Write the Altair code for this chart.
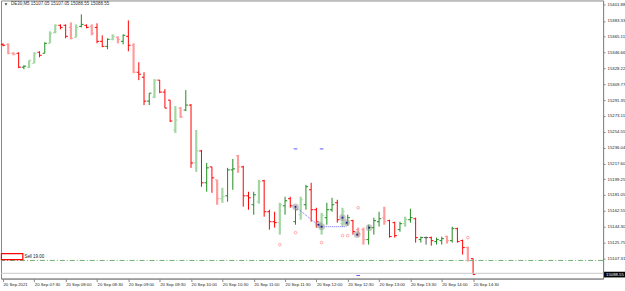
import altair as alt
import pandas as pd

# ---------------- data ----------------
kinds = list("dDDduUUduUUddDUudDdduUDudDdduUdddUDudUdudDUuuDdduUdddUuduUuddUuudUudDDuuuDdduUudugduuDuddDd")
opens = [15356.1,15356.1,15345.7,15345.7,15329.5,15329.5,15334.1,15346.9,15345.7,15357.3,
         15370.0,15378.2,15378.2,15375.8,15364.3,15377.0,15378.2,15377.0,15375.8,15359.6,
         15353.8,15361.9,15364.3,15359.6,15365.4,15355.0,15323.7,15317.9,15290.1,15294.8,
         15314.5,15300.6,15291.3,15256.6,15282.0,15279.7,15285.5,15218.3,15232.2,15195.2,
         15213.7,15198.7,15176.7,15180.1,15210.2,15226.5,15213.7,15180.1,15169.7,15173.2,
         15197.5,15161.6,15150.0,15148.9,15168.5,15176.7,15150.0,15158.1,15169.7,15187.1,
         15163.9,15143.1,15154.7,15163.9,15172.0,15147.7,15147.7,15151.2,15140.8,15140.8,
         15129.2,15143.1,15150.0,15154.7,15151.2,15148.9,15140.8,15147.7,15152.3,15153.5,
         15129.2,15131.5,15131.5,15126.9,15128.0,15132.7,15128.0,15141.9,15128.0,15119.9,
         15107.05]
highs = [15357.3,15357.3,15346.9,15346.9,15331.8,15337.6,15346.9,15348.0,15358.5,15371.2,
         15379.3,15379.3,15379.3,15381.6,15379.3,15390.9,15379.3,15379.3,15380.5,15366.6,
         15363.1,15367.7,15365.4,15367.7,15383.9,15357.3,15335.3,15323.7,15299.4,15315.6,
         15314.5,15304.0,15291.3,15284.4,15283.2,15302.9,15286.7,15256.6,15233.4,15218.3,
         15213.7,15198.7,15189.4,15212.6,15223.0,15227.6,15214.9,15184.8,15184.8,15198.7,
         15198.7,15163.9,15161.6,15172.0,15179.0,15179.0,15167.4,15179.0,15192.9,15195.2,
         15166.2,15160.4,15172.0,15177.8,15175.5,15166.2,15158.1,15152.3,15143.1,15143.1,
         15146.5,15154.7,15161.6,15167.4,15152.3,15150.0,15150.0,15155.8,15165.1,15154.7,
         15132.7,15132.7,15132.7,15131.5,15132.7,15133.8,15144.2,15143.1,15129.2,15121.1,
         15107.05]
lows = [15353.8,15344.6,15343.4,15328.4,15327.2,15328.4,15334.1,15341.1,15345.7,15357.3,
        15368.9,15373.5,15363.1,15361.9,15364.3,15375.8,15374.7,15366.6,15357.3,15352.7,
        15350.4,15360.8,15357.3,15356.1,15348.0,15322.6,15314.5,15285.5,15285.5,15293.6,
        15299.4,15282.0,15265.8,15253.1,15270.5,15278.5,15212.6,15207.9,15190.6,15184.8,
        15183.6,15169.7,15172.0,15173.2,15187.1,15206.8,15167.4,15163.9,15158.1,15170.9,
        15155.8,15140.8,15143.1,15135.0,15158.1,15166.2,15146.5,15152.3,15163.9,15150.0,
        15143.1,15135.0,15146.5,15161.6,15148.9,15144.2,15145.4,15135.0,15132.7,15123.4,
        15123.4,15135.0,15144.2,15146.5,15131.5,15131.5,15138.4,15144.2,15148.9,15125.7,
        15125.7,15123.4,15122.2,15123.4,15123.4,15124.6,15125.7,15125.7,15111.8,15103.7,
        15088.55]
closes = [15355.0,15345.7,15344.6,15329.5,15330.7,15337.6,15345.7,15343.4,15357.3,15368.9,
          15378.2,15375.8,15365.4,15363.1,15375.8,15379.3,15375.8,15368.9,15359.6,15353.8,
          15361.9,15365.4,15361.9,15366.6,15355.0,15323.7,15321.4,15290.1,15299.4,15314.5,
          15300.6,15282.0,15267.0,15268.1,15271.6,15285.5,15218.3,15232.2,15195.2,15212.6,
          15201.0,15176.7,15179.0,15210.2,15211.4,15213.7,15180.1,15177.8,15181.3,15196.3,
          15161.6,15150.0,15148.9,15169.7,15174.3,15168.5,15163.9,15175.5,15190.6,15163.9,
          15150.0,15157.0,15163.9,15169.7,15152.3,15161.6,15154.7,15138.4,15136.1,15129.2,
          15143.1,15151.2,15153.5,15150.0,15132.7,15133.8,15147.7,15152.3,15154.7,15131.5,
          15131.5,15131.5,15128.0,15129.2,15130.3,15128.0,15141.9,15126.9,15119.9,15104.9,
          15088.55]

x_tick_labels = ["20 Sep 2021", "20 Sep 07:30", "20 Sep 08:00", "20 Sep 08:30", "20 Sep 09:00",
                 "20 Sep 09:30", "20 Sep 10:00", "20 Sep 10:30", "20 Sep 11:00", "20 Sep 11:30",
                 "20 Sep 12:00", "20 Sep 12:30", "20 Sep 13:00", "20 Sep 13:30", "20 Sep 14:00",
                 "20 Sep 14:30"]
y_tick_values = [15401.88, 15383.33, 15365.11, 15346.66, 15328.22, 15309.77, 15291.35, 15273.11,
                 15254.55, 15236.04, 15217.60, 15199.25, 15181.05, 15162.55, 15144.30, 15125.75,
                 15107.31]

title_text = "DE30,M5  15107.05 15107.05 15088.55 15088.55"
last_price = 15088.55
level_price = 15105.0

# markers
pink_i = [53, 56, 61, 65, 66, 68, 89]
pink_p = [15123.4, 15137.3, 15125.7, 15133.8, 15133.8, 15166.2, 15131.5]
ring_i = [56, 60.4, 61, 65, 65.8, 67.8, 70.1]
ring_p = [15167.4, 15146.5, 15144.2, 15154.7, 15148.9, 15135.0, 15143.1]
path_i = [56, 60.7, 65.8]
path_p = [15167.4, 15144.2, 15144.2]
dash_i = [56, 61, 68]
dash_p = [15234.6, 15234.6, 15087.5]

sell_text = "Sell 19.00"

# ---------------- build ----------------
n = len(opens)
df = pd.DataFrame({"i": list(range(n)), "kind": kinds[:n], "o": opens, "h": highs,
                   "l": lows, "c": closes})

X_DOM = [-0.382, 114.885]
Y_DOM = [15083.92, 15407.09]
xs = alt.Scale(domain=X_DOM, nice=False, zero=False)
ys = alt.Scale(domain=Y_DOM, nice=False, zero=False)

color_scale = alt.Scale(domain=["u", "d", "U", "D", "g"],
                        range=["#1f8c1f", "#ff0000", "#a3d6a3", "#ff9c9c", "#555555"])

label_arr = "[" + ",".join("'" + s + "'" for s in x_tick_labels) + "]"

x_axis = alt.Axis(values=list(range(0, 91, 6)), labelExpr=label_arr + "[round(datum.value/6)]",
                  labelAlign="left", labelFontSize=4.3, labelFont="Liberation Sans",
                  labelColor="#222222", tickSize=3, tickColor="#888888", domainColor="#888888",
                  labelPadding=1, grid=False, title=None, labelOverlap=False, labelFlush=False)
y_axis = alt.Axis(orient="right", values=y_tick_values, format=".2f", labelFontSize=4.3,
                  labelFont="Liberation Sans", labelColor="#222222", tickSize=2,
                  tickColor="#888888", domainColor="#888888", labelPadding=2, grid=False,
                  title=None, labelOverlap=False, labelFlush=False)

XN = lambda f: alt.X(f, scale=xs, axis=x_axis)
YN = lambda f: alt.Y(f, scale=ys, axis=y_axis)

base = alt.Chart(df)

hl_dark = base.transform_filter("indexof(['u','d','g'], datum.kind) >= 0").mark_rule(strokeWidth=1).encode(
    x=XN("i:Q"), y=YN("l:Q"), y2="h:Q",
    color=alt.Color("kind:N", scale=color_scale, legend=None),
)
hl_pale = base.transform_filter("indexof(['U','D'], datum.kind) >= 0").mark_rule(strokeWidth=2.2).encode(
    x=XN("i:Q"), y=YN("l:Q"), y2="h:Q",
    color=alt.Color("kind:N", scale=color_scale, legend=None),
)
open_t = base.transform_calculate(il="datum.i - 0.42").mark_rule(strokeWidth=1).encode(
    x=XN("il:Q"), x2="i:Q", y=YN("o:Q"),
    color=alt.Color("kind:N", scale=color_scale, legend=None),
)
close_t = base.transform_calculate(ir="datum.i + 0.42").mark_rule(strokeWidth=1).encode(
    x=XN("i:Q"), x2="ir:Q", y=YN("c:Q"),
    color=alt.Color("kind:N", scale=color_scale, legend=None),
)

lvl = alt.Chart(pd.DataFrame({"p": [level_price]})).mark_rule(
    color="#6fae6f", strokeWidth=1, strokeDash=[5, 2, 1, 2]).encode(y=YN("p:Q"))
bid = alt.Chart(pd.DataFrame({"p": [last_price + 1.5]})).mark_rule(
    color="#c8c8c8", strokeWidth=1).encode(y=YN("p:Q"))

pink = alt.Chart(pd.DataFrame({"i": pink_i, "p": pink_p})).mark_point(
    shape="circle", size=7, filled=False, color="#ff6a6a", strokeWidth=0.8).encode(
    x=XN("i:Q"), y=YN("p:Q"))

rings = alt.Chart(pd.DataFrame({"i": ring_i, "p": ring_p})).mark_point(
    shape="circle", size=45, filled=True, color="#9a9a9a", opacity=0.55).encode(
    x=XN("i:Q"), y=YN("p:Q"))
ring_c = alt.Chart(pd.DataFrame({"i": ring_i, "p": ring_p})).mark_point(
    shape="square", size=3, filled=True, color="#1a1a8c", opacity=1).encode(
    x=XN("i:Q"), y=YN("p:Q"))

path = alt.Chart(pd.DataFrame({"i": path_i, "p": path_p, "k": [0, 1, 2]})).mark_line(
    color="#6b6bff", strokeWidth=1, strokeDash=[1, 1]).encode(
    x=XN("i:Q"), y=YN("p:Q"), order="k:Q")

dashes = alt.Chart(pd.DataFrame({"i": dash_i, "p": dash_p})).transform_calculate(
    a="datum.i - 0.35", b="datum.i + 0.35").mark_rule(color="#5a5aff", strokeWidth=1).encode(
    x=XN("a:Q"), x2="b:Q", y=YN("p:Q"))

sell_box = alt.Chart(pd.DataFrame({"a": [-0.3], "b": [3.8], "p1": [15106.0], "p2": [15112.9]})).mark_rect(
    fill="white", stroke="#ff0000", strokeWidth=1.2).encode(
    x=XN("a:Q"), x2="b:Q", y=YN("p1:Q"), y2="p2:Q")
sell_lbl = alt.Chart(pd.DataFrame({"i": [4.1], "p": [15109.4], "t": [sell_text]})).mark_text(
    align="left", baseline="middle", fontSize=4.5, font="Liberation Sans", color="#222222").encode(
    x=XN("i:Q"), y=YN("p:Q"), text="t:N")

pbox = alt.Chart(pd.DataFrame({"p": [last_price]})).transform_calculate(
    p1="datum.p - 3.3", p2="datum.p + 3.3").mark_rect(color="#000000").encode(
    x=alt.value(605), x2=alt.value(626), y=YN("p1:Q"), y2="p2:Q")
ptxt = alt.Chart(pd.DataFrame({"p": [last_price]})).mark_text(
    align="left", baseline="middle", fontSize=4.3, font="Liberation Sans", color="white").encode(
    x=alt.value(607), y=YN("p:Q"), text=alt.Text("p:Q", format=".2f"))

ttl = alt.Chart(pd.DataFrame({"t": [title_text]})).mark_text(
    align="left", baseline="middle", fontSize=4.5, font="Liberation Sans", color="#333333").encode(
    x=alt.value(10), y=alt.value(4), text="t:N")
tri = alt.Chart(pd.DataFrame({"t": [title_text]})).mark_point(
    shape="triangle-down", size=8, filled=True, color="#000000").encode(
    x=alt.value(5), y=alt.value(4))

chart = alt.layer(hl_dark, lvl, bid, hl_pale, open_t, close_t, path, rings, ring_c, pink, dashes,
                  sell_box, sell_lbl, pbox, ptxt, ttl, tri).properties(
    width=604, height=279, padding={"left": 0, "top": 0, "right": 0, "bottom": 0},
    background="white"
).configure_view(stroke="#888888", strokeWidth=1).configure_axis(labelOverlap=False)

chart.save("out.html", embed_options={"renderer": "svg", "actions": False})
